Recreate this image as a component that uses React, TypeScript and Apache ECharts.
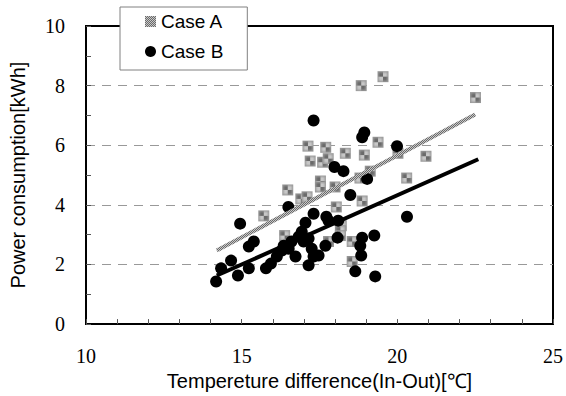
import React, { useEffect, useRef } from 'react';
import * as echarts from 'echarts';

// Case A: gray squares [temperature difference, power consumption]
const caseA: number[][] = [
  [19.54, 8.3], [18.84, 8.0], [22.51, 7.6], [17.13, 5.97], [17.7, 5.93], [19.38, 6.1],
  [17.2, 5.47], [17.6, 5.43], [18.33, 5.73], [18.94, 5.67], [20.02, 5.73], [20.92, 5.63],
  [19.13, 5.13], [18.8, 4.9], [20.3, 4.9], [17.53, 4.8], [17.53, 4.6], [16.48, 4.5],
  [16.9, 4.2], [17.1, 4.27], [18.0, 4.6], [18.87, 4.13], [18.04, 3.93], [15.71, 3.63],
  [18.2, 3.3], [16.38, 2.97], [18.17, 3.13], [18.17, 2.97], [17.79, 2.77], [18.55, 2.77],
  [18.55, 2.1], [17.78, 5.55]
];

// Case B: black circles
const caseB: number[][] = [
  [17.31, 6.83], [18.94, 6.43], [18.87, 6.27], [19.99, 5.97], [17.98, 5.27], [18.27, 5.13],
  [19.03, 4.87], [18.49, 4.33], [20.31, 3.6], [17.79, 3.47], [18.1, 3.47], [16.5, 3.93],
  [17.31, 3.7], [17.05, 3.4], [17.72, 3.6], [14.95, 3.37], [15.39, 2.77], [15.23, 2.6],
  [14.66, 2.13], [14.34, 1.87], [14.18, 1.43], [14.88, 1.63], [15.23, 1.87], [15.78, 1.87],
  [15.94, 2.03], [16.13, 2.27], [16.29, 2.47], [16.35, 2.63], [16.51, 2.53], [16.6, 2.77],
  [16.73, 2.27], [16.83, 2.93], [16.93, 3.1], [16.99, 2.77], [17.15, 2.87], [17.25, 2.53],
  [17.15, 1.97], [17.31, 2.27], [17.47, 2.3], [17.69, 2.63], [18.08, 2.9], [18.87, 2.9],
  [19.26, 2.97], [18.81, 2.63], [18.84, 2.3], [18.65, 1.77], [19.29, 1.6]
];

// Trend lines (end points)
const trendA: number[][] = [[14.2, 2.47], [22.5, 7.03]];
const trendB: number[][] = [[14.2, 1.63], [22.6, 5.53]];

const seriesNames = ['Case A', 'Case B'];
const xTitle = 'Tempereture difference(In-Out)[℃]';
const yTitle = 'Power consumption[kWh]';

function makeChecker(dark: string, light: string): HTMLCanvasElement {
  const c = document.createElement('canvas');
  c.width = 2;
  c.height = 2;
  const ctx = c.getContext('2d')!;
  ctx.fillStyle = light;
  ctx.fillRect(0, 0, 2, 2);
  ctx.fillStyle = dark;
  ctx.fillRect(0, 0, 1, 1);
  ctx.fillRect(1, 1, 1, 1);
  return c;
}

export default function App() {
  const ref = useRef<HTMLDivElement>(null);
  useEffect(() => {
    document.body.style.margin = '0';
    if (!ref.current) return;
    const chart = echarts.init(ref.current, undefined, { renderer: 'svg' });
    const sans = 'Liberation Sans';
    const serif = 'Liberation Serif';
    const checker = { image: makeChecker('#6a6a6a', '#c8c8c8'), repeat: 'repeat' };
    const tickLabel = (margin: number) => ({
      fontFamily: serif, fontSize: 20, color: '#000', margin,
      formatter: '{t|{value}}',
      rich: { t: { fontFamily: serif, fontSize: 20, color: '#000' } }
    });
    chart.setOption({
      animation: false,
      backgroundColor: '#fff',
      grid: {
        left: 86, top: 26, right: 10, bottom: 70,
        show: true, borderColor: '#000', borderWidth: 2, backgroundColor: 'transparent'
      },
      legend: {
        data: [
          { name: seriesNames[0], icon: 'rect', itemStyle: { color: checker } },
          { name: seriesNames[1], icon: 'circle' }
        ],
        orient: 'vertical',
        left: 120, top: 7,
        padding: [5, 24, 9, 25],
        itemGap: 11,
        itemWidth: 11, itemHeight: 11,
        backgroundColor: '#fff',
        borderColor: '#808080', borderWidth: 1,
        textStyle: { fontFamily: sans, fontSize: 19, color: '#000' },
        z: 10
      },
      xAxis: {
        type: 'value', min: 10, max: 25, interval: 5,
        name: xTitle, nameLocation: 'middle', nameGap: 46,
        nameTextStyle: { fontFamily: sans, fontSize: 20, color: '#000' },
        axisLine: { show: true, lineStyle: { color: '#000', width: 2 } },
        axisTick: { show: true, inside: true, length: 5, lineStyle: { color: '#555' } },
        minorTick: { show: true, splitNumber: 5, length: 5, lineStyle: { color: '#555' } },
        splitLine: { show: false },
        axisLabel: tickLabel(22)
      },
      yAxis: {
        type: 'value', min: 0, max: 10, interval: 2,
        name: yTitle, nameLocation: 'middle', nameGap: 58,
        nameTextStyle: { fontFamily: sans, fontSize: 20, color: '#000' },
        axisLine: { show: true, lineStyle: { color: '#000', width: 2 } },
        axisTick: { show: true, inside: true, length: 5, lineStyle: { color: '#555' } },
        minorTick: { show: true, splitNumber: 2, length: 5, lineStyle: { color: '#555' } },
        splitLine: {
          show: true, showMinLine: false, showMaxLine: false,
          lineStyle: { color: '#999', width: 1, type: [9, 7] }
        },
        axisLabel: tickLabel(21)
      },
      series: [
        {
          name: seriesNames[0], type: 'scatter', data: caseA,
          symbol: 'rect', symbolSize: 11,
          itemStyle: { color: checker, opacity: 1 }
        },
        {
          name: 'Trend A', type: 'line', data: trendA, symbol: 'none',
          lineStyle: { color: checker, width: 4 }
        },
        {
          name: seriesNames[1], type: 'scatter', data: caseB,
          symbol: 'circle', symbolSize: 12,
          itemStyle: { color: '#000', opacity: 1 }
        },
        {
          name: 'Trend B', type: 'line', data: trendB, symbol: 'none',
          lineStyle: { color: '#000', width: 4 }
        }
      ]
    });
    return () => chart.dispose();
  }, []);
  return <div ref={ref} style={{ position: 'fixed', left: 0, top: 0, width: 566, height: 396 }} />;
}
